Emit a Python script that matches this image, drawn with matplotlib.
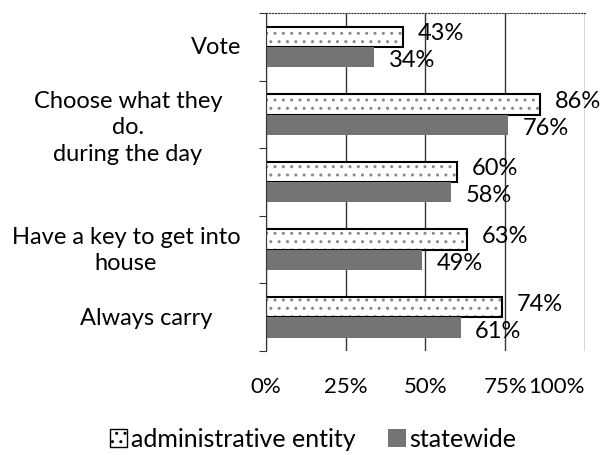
import numpy as np
import matplotlib.pyplot as plt
import matplotlib.transforms as mtransforms
from matplotlib.patches import Patch

plt.rcParams['font.family'] = ['Lato', 'DejaVu Sans']

labels = ["Vote", "Choose what they\ndo.\nduring the day", "", "Have a key to get into\nhouse", "Always carry"]
admin = [43, 86, 60, 63, 74]
statewide = [34, 76, 58, 49, 61]
xticks = [0, 25, 50, 75, 100]

fig = plt.figure(figsize=(6, 4.56), dpi=100)
ax = fig.add_axes([0.443, 0.228, 0.532, 0.741])

y = np.arange(len(labels))
h = 0.3
# hatched fill, then black outline on top
ax.barh(y - h/2, admin, height=h, color='white', edgecolor='#888888', linewidth=0, hatch='..')
ax.barh(y - h/2, admin, height=h, color='none', edgecolor='black', linewidth=1.5)
ax.barh(y + h/2, statewide, height=h, color='#747474', edgecolor='none')

for i in range(len(y)):
    ax.text(admin[i] + 4.5, y[i] - h/2 - 0.06, f"{admin[i]}%", va='center', ha='left', fontsize=17)
    ax.text(statewide[i] + 4.5, y[i] + h/2 + 0.04, f"{statewide[i]}%", va='center', ha='left', fontsize=17)

ax.set_xlim(0, 100)
ax.set_ylim(len(labels) - 0.5, -0.5)
ax.set_xticks(xticks)
ax.set_xticklabels([f"{t}%" for t in xticks], fontsize=16)
ax.get_xticklabels()[-1].set_ha('right')
ax.tick_params(axis='x', length=0, pad=18)
ax.set_yticks(np.arange(len(labels) + 1) - 0.5)
ax.set_yticklabels([])
ax.tick_params(axis='y', length=5, direction='out', color='#333333')
ax.grid(axis='x', color='#333333', linewidth=1)
ax.set_axisbelow(True)

# category labels (centres in figure pixels)
label_x = [216, 128, 0, 126, 146]
label_y = [0, 1.18, 2, 3, 4]
trans = mtransforms.blended_transform_factory(fig.transFigure, ax.transData)
for lx, ly, lab in zip(label_x, label_y, labels):
    if lab:
        ax.text(lx / 600, ly, lab, transform=trans, ha='center', va='center',
                multialignment='center', fontsize=17, linespacing=1.32)

ax.spines['right'].set_visible(False)
ax.spines['bottom'].set_visible(False)
ax.spines['top'].set_linestyle(':')
ax.spines['top'].set_color('#333333')
ax.spines['left'].set_color('#333333')

handles = [Patch(facecolor='white', edgecolor='black', hatch='..', linewidth=1),
           Patch(facecolor='#747474', edgecolor='none')]
fig.legend(handles, ['administrative entity', 'statewide'], loc='center',
           bbox_to_anchor=(313 / 600, 1 - 440 / 456), ncol=2, frameon=False,
           fontsize=18, handlelength=0.7, handleheight=0.7, handletextpad=0.15,
           columnspacing=1.3)

fig.savefig("out.png")
